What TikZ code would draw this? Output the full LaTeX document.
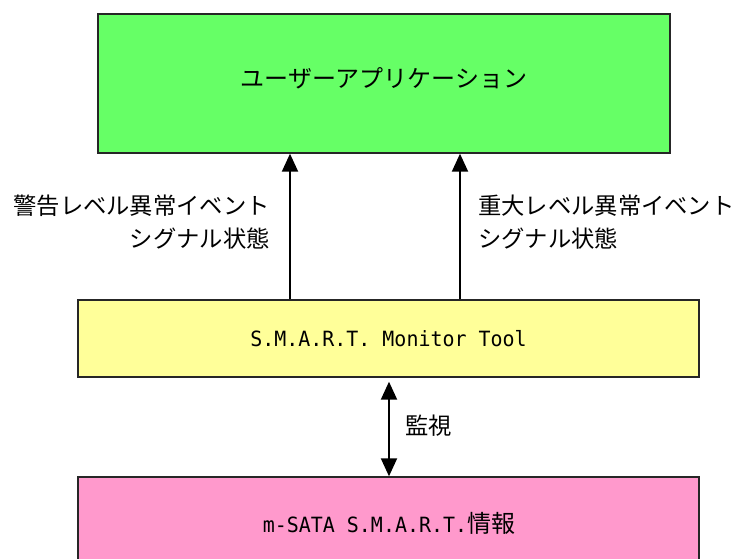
\documentclass[tikz,border=0pt]{standalone}
\usepackage{fontspec}
\newfontfamily\jp{Noto Sans CJK JP}
\newfontfamily\lat[FakeStretch=0.95]{DejaVu Sans Mono}
\usetikzlibrary{arrows.meta,shadows}
\begin{document}
\begin{tikzpicture}[x=1pt,y=-1pt,
  box/.style={draw=black!85, line width=1.4pt, inner sep=0pt, rectangle,
    drop shadow={shadow xshift=1.2pt, shadow yshift=-1.2pt, fill=black!45, opacity=1}},
  jptext/.style={font=\jp\fontsize{24}{33}\selectfont, text=black},
  lbltext/.style={font=\jp\fontsize{23.3}{33}\selectfont, text=black, inner sep=0pt},
  lattext/.style={font=\lat\fontsize{21}{24}\selectfont, text=black},
  arr/.style={line width=2pt, -{Triangle[width=16pt,length=18pt]}},
  arrboth/.style={line width=2pt, {Triangle[width=16pt,length=18pt]}-{Triangle[width=16pt,length=18pt]}},
]
\useasboundingbox (0,0) rectangle (740,558);
\clip (0,0) rectangle (740,558);
\fill[white] (0,0) rectangle (740,558);

\node[box, fill={rgb,255:red,102;green,255;blue,102}, minimum width=572pt, minimum height=139pt] (green) at (384,83.5) {};
\node[jptext] (gtext) at (384,78) {ユーザーアプリケーション};

\node[box, fill={rgb,255:red,255;green,255;blue,153}, minimum width=621pt, minimum height=77pt, lattext] (yellow) at (388.5,338.5) {S.M.A.R.T. Monitor Tool};

\node[box, fill={rgb,255:red,255;green,153;blue,204}, minimum width=621pt, minimum height=93pt] (pink) at (388.5,523.5) {};
\node[anchor=center] (ptext) at (389,523) {{\lat\fontsize{21}{24}\selectfont m-SATA S.M.A.R.T.}{\jp\fontsize{24}{33}\selectfont 情報}};

\coordinate (ax1) at (290,0);
\coordinate (ax2) at (460,0);
\coordinate (ax3) at (389,0);

\draw[arr] (yellow.north -| ax1) -- (green.south -| ax1);
\draw[arr] (yellow.north -| ax2) -- (green.south -| ax2);
\draw[arrboth, shorten <=4pt] (yellow.south -| ax3) -- (pink.north -| ax3);

\node[lbltext, align=right, anchor=east] (lbl1) at (270,222) {警告レベル異常イベント\\シグナル状態};
\node[lbltext, align=left, anchor=west] (lbl2) at (478,222) {重大レベル異常イベント\\シグナル状態};
\node[lbltext, anchor=west] (lbl3) at (405,426) {監視};
\end{tikzpicture}
\end{document}
